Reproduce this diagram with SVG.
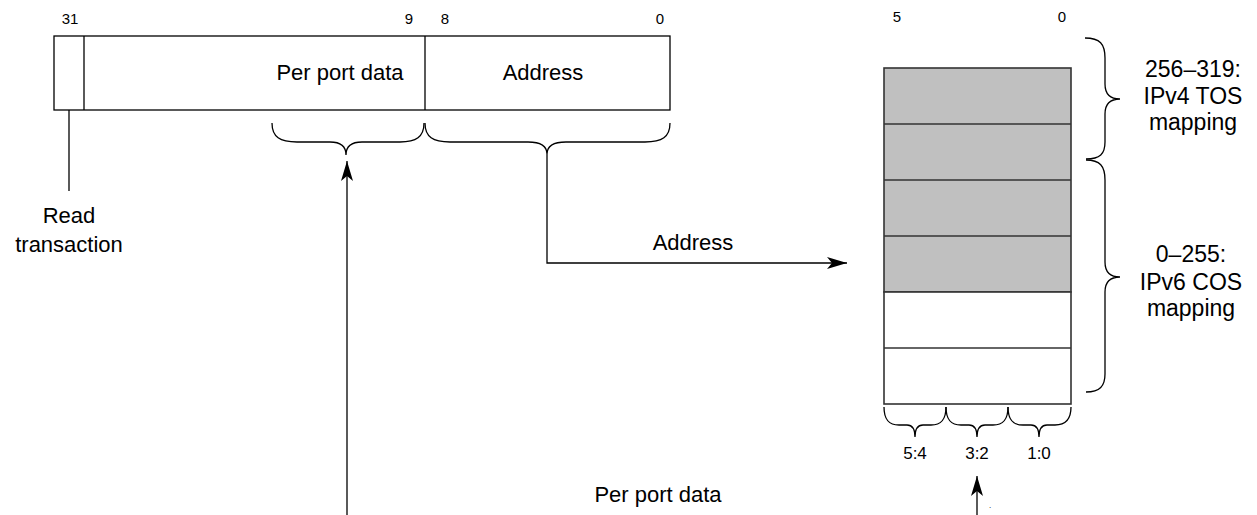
<svg xmlns="http://www.w3.org/2000/svg" width="1257" height="515" viewBox="0 0 1257 515">
<style>
text{font-family:"Liberation Sans",Arial,Helvetica,sans-serif;fill:#000}
.lbl{font-size:22px;text-anchor:middle}
.map{font-size:23px;text-anchor:middle}
.num{font-size:15px;text-anchor:middle}
.bit{font-size:17px;text-anchor:middle}
.ln{fill:none;stroke:#000;stroke-width:1.3}
.cell{stroke:#333;stroke-width:1.6}
.brace{fill:none;stroke:#000;stroke-width:1.3}
</style>
<defs>
<marker id="arr" markerUnits="userSpaceOnUse" markerWidth="22" markerHeight="14" refX="20" refY="6" orient="auto">
<path d="M0,0 L20,6 L0,12 L5,6 z" fill="#000"/>
</marker>
</defs>

<g id="register">
<rect x="54" y="36" width="616" height="74" fill="#fff" stroke="#000" stroke-width="1.3"/>
<line x1="84" y1="36" x2="84" y2="110" class="ln"/>
<line x1="425" y1="36" x2="425" y2="110" class="ln"/>
<text class="num" x="70" y="24">31</text>
<text class="num" x="409" y="24">9</text>
<text class="num" x="445" y="24">8</text>
<text class="num" x="660" y="24">0</text>
<text class="lbl" x="340" y="80">Per port data</text>
<text class="lbl" x="543" y="80">Address</text>
</g>

<g id="read-transaction">
<text class="lbl" x="69" y="223">Read</text>
<text class="lbl" x="69" y="252">transaction</text>
</g>

<g id="register-braces">
<path class="brace" d="M272,123 C272,137 280,142 297,142 L330,142 C340,142 346,146 346,155 C346,146 352,142 362,142 L400,142 C416,142 424,137 424,123"/>
<path class="brace" d="M425,123 C425,137 433,142 450,142 L528,142 C540,142 547,146 547,154 C547,146 554,142 566,142 L645,142 C662,142 670,137 670,123"/>
</g>

<g id="table">
<rect class="cell" x="884" y="68" width="187" height="224" fill="#c0c0c0"/>
<rect class="cell" x="884" y="292" width="187" height="112" fill="#fff"/>
<line class="cell" x1="884" y1="124" x2="1071" y2="124"/>
<line class="cell" x1="884" y1="180" x2="1071" y2="180"/>
<line class="cell" x1="884" y1="236" x2="1071" y2="236"/>
<line class="cell" x1="884" y1="348" x2="1071" y2="348"/>
<text class="num" x="897" y="22">5</text>
<text class="num" x="1062" y="22">0</text>
</g>

<g id="table-braces">
<path class="brace" d="M1085,38 C1100,38 1105,44 1105,58 L1105,84 C1105,94 1110,99 1120,99 C1110,99 1105,104 1105,114 L1105,142 C1105,154 1100,159 1086,159"/>
<path class="brace" d="M1086,160 C1100,160 1105,166 1105,180 L1105,262 C1105,272 1110,277 1120,277 C1110,277 1105,282 1105,292 L1105,374 C1105,386 1100,392 1086,392"/>
<path class="brace" d="M884,407 C884,420 889,425 899,425 L907,425 C912,425 915,429 915,437 C915,429 918,425 923,425 L931,425 C941,425 946,420 946,407"/>
<path class="brace" d="M946,407 C946,420 951,425 961,425 L969,425 C974,425 977,429 977,437 C977,429 980,425 985,425 L993,425 C1003,425 1008,420 1008,407"/>
<path class="brace" d="M1008,407 C1008,420 1013,425 1023,425 L1031,425 C1036,425 1039,429 1039,437 C1039,429 1042,425 1047,425 L1055,425 C1065,425 1071,420 1071,407"/>
</g>

<g id="table-labels">
<text class="map" x="1193" y="77">256–319:</text>
<text class="map" x="1193" y="104">IPv4 TOS</text>
<text class="map" x="1193" y="130">mapping</text>
<text class="map" x="1191" y="262">0–255:</text>
<text class="map" x="1191" y="290">IPv6 COS</text>
<text class="map" x="1191" y="316">mapping</text>
<text class="bit" x="915" y="459">5:4</text>
<text class="bit" x="977" y="459">3:2</text>
<text class="bit" x="1039" y="459">1:0</text>
</g>

<g id="connectors">
<line class="ln" x1="69" y1="110" x2="69" y2="191"/>
<polyline class="ln" points="547,154 547,263 847,263" marker-end="url(#arr)"/>
<line class="ln" x1="347" y1="515" x2="347" y2="161" marker-end="url(#arr)"/>
<line class="ln" x1="977" y1="515" x2="977" y2="476" marker-end="url(#arr)"/>
<text class="lbl" x="693" y="250">Address</text>
<text class="lbl" x="658" y="502">Per port data</text>
<text x="989" y="508" style="font-size:8px">.</text>
</g>
</svg>
